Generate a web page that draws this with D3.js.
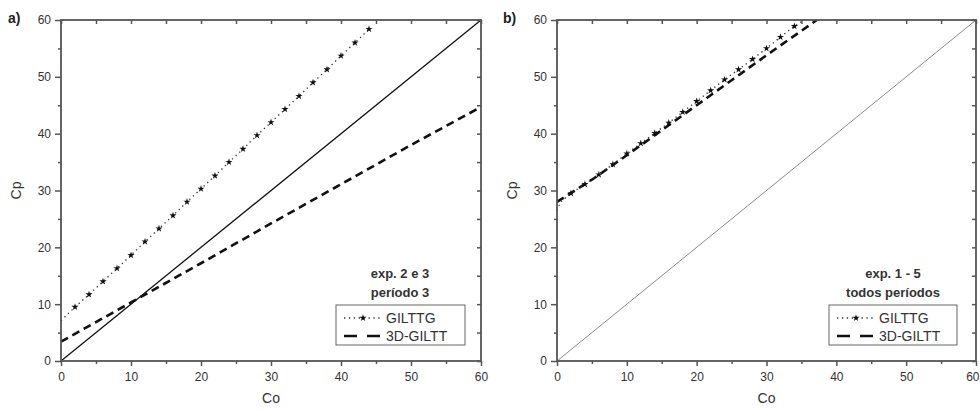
<!DOCTYPE html>
<html>
<head>
<meta charset="utf-8">
<script src="https://cdn.jsdelivr.net/npm/d3@7"></script>
<style>
  body { margin: 0; background: #fff; }
  svg { font-family: "Liberation Sans", Arial, sans-serif; }
  .tick text { fill: #333; font-size: 12px; }
</style>
</head>
<body>
<div id="chart"></div>
<script>
// panel a) exp. 2 e 3, período 3
const aGilttgCo = [0, 2, 4, 6, 8, 10, 12, 14, 16, 18, 20, 22, 24, 26, 28, 30, 32, 34, 36, 38, 40, 42, 44];
const aGilttgCp = [7.1, 9.5, 11.7, 14.0, 16.3, 18.6, 21.0, 23.3, 25.6, 28.0, 30.3, 32.6, 35.0, 37.3, 39.7, 42.0, 44.3, 46.6, 49.0, 51.3, 53.7, 56.0, 58.4];
const a3dCo = [0, 10, 20, 30, 40, 50, 60];
const a3dCp = [3.4, 10.3, 17.2, 24.2, 31.1, 38.0, 44.7];

// panel b) exp. 1 - 5, todos períodos
const bGilttgCo = [0, 0.5, 2, 4, 6, 8, 10, 12, 14, 16, 18, 20, 22, 24, 26, 28, 30, 32, 34, 35.4];
const bGilttgCp = [26.5, 28.0, 29.5, 31.1, 32.8, 34.6, 36.5, 38.3, 40.1, 41.9, 43.8, 45.7, 47.6, 49.5, 51.3, 53.1, 55.0, 57.0, 58.9, 60.0];
const b3dCo = [0, 5, 10, 15, 20, 25, 30, 35, 37.2];
const b3dCp = [28.0, 31.9, 36.2, 40.6, 45.0, 49.4, 53.8, 58.1, 60.0];

const identity = [0, 60];
const majorTicks = [0, 10, 20, 30, 40, 50, 60];
const minorTicks = [5, 15, 25, 35, 45, 55];
const legendNames = ["GILTTG", "3D-GILTT"];

const width = 980, height = 412;
const svg = d3.select("#chart").append("svg")
    .attr("width", width)
    .attr("height", height);

const panels = [
    {left: 61, right: 481, tag: "a)", tagX: 8,
     gilttg: d3.zip(aGilttgCo, aGilttgCp), starFrom: 1,
     d3d: d3.zip(a3dCo, a3dCp),
     idColor: "#111", idWidth: 1.3,
     note: ["exp. 2 e 3", "período 3"], noteX: 400,
     legend: {x: 336, w: 129}},
    {left: 557, right: 976, tag: "b)", tagX: 503,
     gilttg: d3.zip(bGilttgCo, bGilttgCp), starFrom: 2,
     d3d: d3.zip(b3dCo, b3dCp),
     idColor: "#8a8a8a", idWidth: 1,
     note: ["exp. 1 - 5", "todos períodos"], noteX: 893,
     legend: {x: 829, w: 128}}
];

const plotTop = 20, plotBottom = 361;

panels.forEach(function (p) {
    const x = d3.scaleLinear().domain([0, 60]).range([p.left, p.right]);
    const y = d3.scaleLinear().domain([0, 60]).range([plotBottom, plotTop]);
    const g = svg.append("g");

    // y = x reference line
    g.append("line")
        .attr("x1", x(identity[0])).attr("y1", y(identity[0]))
        .attr("x2", x(identity[1])).attr("y2", y(identity[1]))
        .attr("stroke", p.idColor)
        .attr("stroke-width", p.idWidth);

    const line = d3.line()
        .x(d => x(d[0]))
        .y(d => y(d[1]));

    // 3D-GILTT dashed
    g.append("path")
        .datum(p.d3d)
        .attr("d", line)
        .attr("fill", "none")
        .attr("stroke", "#111")
        .attr("stroke-width", 2.6)
        .attr("stroke-dasharray", "8,5");

    // GILTTG dotted with stars
    g.append("path")
        .datum(p.gilttg)
        .attr("d", line)
        .attr("fill", "none")
        .attr("stroke", "#333")
        .attr("stroke-width", 1.3)
        .attr("stroke-dasharray", "1.3,3.6");

    const star = d3.symbol().type(d3.symbolStar).size(16);
    g.selectAll(".star")
        .data(p.gilttg.filter(d => d[0] >= p.starFrom && d[0] % 2 === 0))
        .enter().append("path")
        .attr("class", "star")
        .attr("d", star)
        .attr("fill", "#111")
        .attr("transform", d => "translate(" + x(d[0]) + "," + y(d[1]) + ")");

    // axes
    const axisColor = "#555";
    function styleAxis(sel) {
        sel.select(".domain").remove();
        sel.selectAll(".tick line").attr("stroke", axisColor).attr("stroke-width", 1.5);
    }

    const xAxis = g.append("g")
        .attr("transform", "translate(0," + plotBottom + ")")
        .call(d3.axisBottom(x).tickValues(majorTicks).tickSize(5).tickPadding(6))
        .call(styleAxis);
    xAxis.selectAll(".tick text").attr("font-size", 12);
    // last label on the right page edge: keep it inside the window
    if (p.right > width - 10) {
        xAxis.selectAll(".tick text").filter(d => d === 60)
            .attr("text-anchor", "end").attr("x", width - 1 - p.right);
    }
    g.append("g")
        .attr("transform", "translate(0," + plotBottom + ")")
        .call(d3.axisBottom(x).tickValues(minorTicks).tickSize(3).tickFormat(""))
        .call(styleAxis);

    const yAxis = g.append("g")
        .attr("transform", "translate(" + p.left + ",0)")
        .call(d3.axisLeft(y).tickValues(majorTicks).tickSize(6).tickPadding(4))
        .call(styleAxis);
    yAxis.selectAll(".tick text").attr("font-size", 12);
    g.append("g")
        .attr("transform", "translate(" + p.left + ",0)")
        .call(d3.axisLeft(y).tickValues(minorTicks).tickSize(3).tickFormat(""))
        .call(styleAxis);

    // top and right: inward ticks
    g.append("g")
        .attr("transform", "translate(0," + plotTop + ")")
        .call(d3.axisBottom(x).tickValues(majorTicks.concat(minorTicks)).tickSize(4).tickFormat(""))
        .call(styleAxis);
    g.append("g")
        .attr("transform", "translate(" + p.right + ",0)")
        .call(d3.axisLeft(y).tickValues(majorTicks.concat(minorTicks)).tickSize(4).tickFormat(""))
        .call(styleAxis);

    // frame
    g.append("rect")
        .attr("x", p.left).attr("y", plotTop)
        .attr("width", p.right - p.left).attr("height", plotBottom - plotTop)
        .attr("fill", "none")
        .attr("stroke", axisColor)
        .attr("stroke-width", 1.8);

    // titles
    g.append("text")
        .attr("x", (p.left + p.right) / 2).attr("y", 403)
        .attr("text-anchor", "middle")
        .attr("font-size", 14).attr("fill", "#333")
        .text("Co");
    g.append("text")
        .attr("transform", "translate(" + (p.left - 40) + "," + ((plotTop + plotBottom) / 2) + ") rotate(-90)")
        .attr("text-anchor", "middle")
        .attr("font-size", 14).attr("fill", "#333")
        .text("Cp");
    g.append("text")
        .attr("x", p.tagX).attr("y", 23)
        .attr("font-size", 14).attr("font-weight", "bold").attr("fill", "#222")
        .text(p.tag);

    // note
    p.note.forEach(function (t, i) {
        g.append("text")
            .attr("x", p.noteX).attr("y", 278 + i * 19)
            .attr("text-anchor", "middle")
            .attr("font-size", 13).attr("font-weight", "bold").attr("fill", "#333")
            .text(t);
    });

    // legend
    const lg = g.append("g").attr("transform", "translate(" + p.legend.x + ",305)");
    lg.append("rect")
        .attr("width", p.legend.w).attr("height", 40)
        .attr("fill", "#fff")
        .attr("stroke", "#666").attr("stroke-width", 1);
    lg.append("line")
        .attr("x1", 8).attr("x2", 46).attr("y1", 13).attr("y2", 13)
        .attr("stroke", "#333").attr("stroke-width", 1.3)
        .attr("stroke-dasharray", "1.3,3.6");
    lg.append("path")
        .attr("d", d3.symbol().type(d3.symbolStar).size(16))
        .attr("fill", "#111")
        .attr("transform", "translate(27,13)");
    lg.append("line")
        .attr("x1", 8).attr("x2", 44).attr("y1", 31).attr("y2", 31)
        .attr("stroke", "#111").attr("stroke-width", 2.6)
        .attr("stroke-dasharray", "13,10");
    legendNames.forEach(function (n, i) {
        lg.append("text")
            .attr("x", 50).attr("y", 18 + i * 18)
            .attr("font-size", 14).attr("fill", "#333")
            .text(n);
    });
});
</script>
</body>
</html>
